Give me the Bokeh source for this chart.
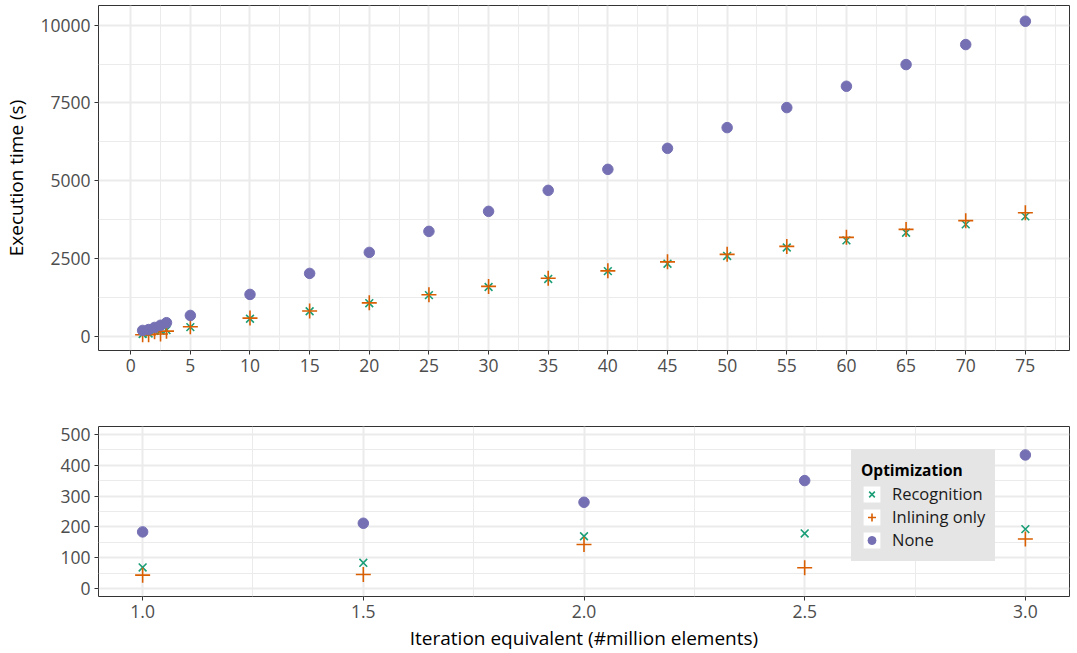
from bokeh.plotting import figure
from bokeh.layouts import column
from bokeh.models import (Range1d, FixedTicker, PrintfTickFormatter, Legend, LegendItem,
                          ColumnDataSource)
from bokeh.embed import file_html
from bokeh.resources import INLINE

# ---- data ----
x_all = [1.0, 1.5, 2.0, 2.5, 3.0, 5, 10, 15, 20, 25, 30, 35, 40, 45, 50, 55, 60, 65, 70, 75]
none_t = [184, 212, 280, 350, 433, 666, 1342, 2018, 2694, 3370, 4014, 4689, 5365, 6041,
          6707, 7351, 8037, 8735, 9379, 10129]
recog_t = [69, 84, 170, 179, 193, 290, 560, 800, 1060, 1320, 1580, 1840, 2090, 2330,
           2580, 2850, 3080, 3328, 3595, 3853]
inline_t = [44, 46, 143, 68, 161, 300, 580, 810, 1070, 1330, 1600, 1860, 2100, 2390,
            2630, 2887, 3177, 3434, 3714, 3971]
zoom_n = 5  # first five points shown in the lower panel

top_x_ticks = list(range(0, 80, 5))
top_y_ticks = [0, 2500, 5000, 7500, 10000]
bot_x_ticks = [1.0, 1.5, 2.0, 2.5, 3.0]
bot_y_ticks = [0, 100, 200, 300, 400, 500]

GREEN = "#1b9e77"
ORANGE = "#d95f02"
PURPLE = "#7570b3"
FONT = "Open Sans"
GRID = "#ebebeb"
TXT = "#4d4d4d"


def style(p):
    p.background_fill_color = "white"
    p.border_fill_color = "white"
    p.outline_line_color = "#333333"
    p.outline_line_width = 1
    for ax in (p.xaxis[0], p.yaxis[0]):
        ax.axis_line_color = None
        ax.major_tick_line_color = "#333333"
        ax.major_tick_line_width = 1
        ax.major_tick_out = 4
        ax.major_tick_in = 0
        ax.minor_tick_out = 0
        ax.minor_tick_in = 0
        ax.major_label_text_font = FONT
        ax.major_label_text_font_size = "17.5px"
        ax.major_label_text_color = TXT
        ax.major_label_standoff = 4
        ax.axis_label_text_font = FONT
        ax.axis_label_text_font_size = "19px"
        ax.axis_label_text_font_style = "normal"
        ax.axis_label_text_color = "black"
    p.xaxis[0].major_label_standoff = 4
    for g in (p.xgrid[0], p.ygrid[0]):
        g.grid_line_color = GRID
        g.grid_line_width = 2
        g.minor_grid_line_color = GRID
        g.minor_grid_line_width = 1


def draw(p, xs, rec, inl, non):
    src = ColumnDataSource(dict(x=xs, rec=rec, inl=inl, non=non))
    r1 = p.scatter("x", "rec", source=src, marker="x", size=11, line_color=GREEN, line_width=1.6)
    r2 = p.scatter("x", "inl", source=src, marker="cross", size=15, line_color=ORANGE, line_width=1.6)
    r3 = p.scatter("x", "non", source=src, marker="circle", size=10.5, fill_color=PURPLE,
                   line_color=PURPLE, line_width=1)
    return r1, r2, r3


# ---- top panel ----
p1 = figure(width=1077, height=390, x_range=Range1d(-2.7, 78.7), y_range=Range1d(-462, 10635),
            output_backend="svg", toolbar_location=None,
            min_border_left=98, min_border_right=8, min_border_top=5, min_border_bottom=40)
style(p1)
p1.xaxis.ticker = FixedTicker(ticks=top_x_ticks, minor_ticks=[t + 2.5 for t in top_x_ticks])
p1.yaxis.ticker = FixedTicker(ticks=top_y_ticks, minor_ticks=[t + 1250 for t in top_y_ticks])
p1.yaxis.axis_label = "Execution time (s)"
p1.yaxis.axis_label_standoff = 8
draw(p1, x_all, recog_t, inline_t, none_t)

# ---- bottom panel ----
p2 = figure(width=1077, height=263, x_range=Range1d(0.9, 3.1), y_range=Range1d(-25, 525),
            output_backend="svg", toolbar_location=None,
            min_border_left=98, min_border_right=8, min_border_top=36, min_border_bottom=56)
style(p2)
p2.xaxis.ticker = FixedTicker(ticks=bot_x_ticks, minor_ticks=[t + 0.25 for t in bot_x_ticks])
p2.xaxis.formatter = PrintfTickFormatter(format="%.1f")
p2.yaxis.ticker = FixedTicker(ticks=bot_y_ticks, minor_ticks=[t + 50 for t in bot_y_ticks])
p2.xaxis.axis_label = "Iteration equivalent (#million elements)"
p2.xaxis.axis_label_standoff = 4
r1, r2, r3 = draw(p2, x_all[:zoom_n], recog_t[:zoom_n], inline_t[:zoom_n], none_t[:zoom_n])

# white legend-key backgrounds (placed outside the visible range)
kbs = [p2.rect(x=[-10], y=[-1000], width=[1], height=[1], fill_color="white",
               line_color=None) for _ in range(3)]

legend = Legend(items=[
    LegendItem(label="Recognition", renderers=[kbs[0], r1]),
    LegendItem(label="Inlining only", renderers=[kbs[1], r2]),
    LegendItem(label="None", renderers=[kbs[2], r3]),
], location=(753, 35))
legend.title = "Optimization"
legend.title_text_font = FONT
legend.title_text_font_style = "bold"
legend.title_text_font_size = "15.5px"
legend.title_text_color = "black"
legend.title_standoff = 1
legend.label_text_font = FONT
legend.label_text_font_size = "16.5px"
legend.label_text_color = "#1a1a1a"
legend.background_fill_color = "#e5e5e5"
legend.background_fill_alpha = 1
legend.border_line_color = "#e5e5e5"
legend.border_line_width = 1
legend.padding = 9
legend.spacing = 0
legend.margin = 0
legend.label_standoff = 10
legend.glyph_width = 21
legend.glyph_height = 20
legend.label_height = 20
p2.add_layout(legend, "center")

layout = column(p1, p2, spacing=0)
open("out.html", "w").write(file_html(layout, INLINE))
